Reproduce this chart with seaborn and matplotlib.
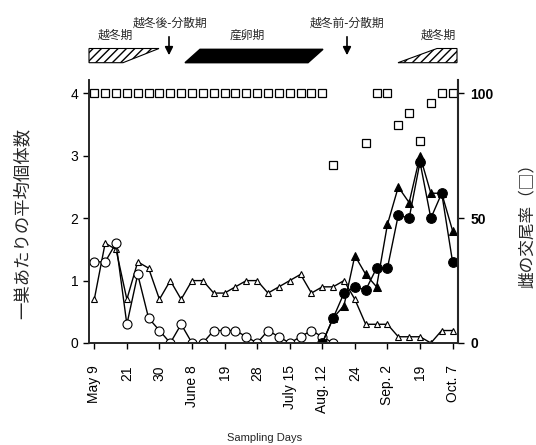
import numpy as np
import pandas as pd
import matplotlib
matplotlib.use("Agg")
import matplotlib.pyplot as plt
import seaborn as sns
from matplotlib.patches import Polygon

# sample index 0..33 (34 sampling days)
n_samples = 34
tick_idx = [0, 3, 6, 9, 12, 15, 18, 21, 24, 27, 30, 33]
tick_labels = ["May 9", "21", "30", "June 8", "19", "28", "July 15",
               "Aug. 12", "24", "Sep. 2", "19", "Oct. 7"]

nan = np.nan
# open triangles
open_tri = [0.7, 1.6, 1.5, 0.7, 1.3, 1.2, 0.7, 1.0, 0.7, 1.0, 1.0, 0.8, 0.8, 0.9,
            1.0, 1.0, 0.8, 0.9, 1.0, 1.1, 0.8, 0.9, 0.9, 1.0, 0.7, 0.3, 0.3, 0.3,
            0.1, 0.1, 0.1, 0.0, 0.2, 0.2]
# open circles (until Aug.)
open_circ = [1.3, 1.3, 1.6, 0.3, 1.1, 0.4, 0.2, 0.0, 0.3, 0.0, 0.0, 0.2, 0.2, 0.2,
             0.1, 0.0, 0.2, 0.1, 0.0, 0.1, 0.2, 0.1, 0.0] + [nan] * 11
# filled circles (from Aug.)
filled_circ = [nan] * 21 + [0.0, 0.4, 0.8, 0.9, 0.85, 1.2, 1.2, 2.05, 2.0, 2.9,
                            2.0, 2.4, 1.3]
# filled triangles
filled_tri = [nan] * 21 + [0.0, 0.4, 0.6, 1.4, 1.1, 0.9, 1.9, 2.5, 2.25, 3.0,
                           2.4, 2.4, 1.8]
# female mating rate (%), right axis
mating = [100] * 22 + [71.5, nan, nan, 80, 100, 100, 87.5, 92, 81, 96, 100, 100]

df = pd.DataFrame({
    "idx": np.arange(n_samples),
    "open_tri": open_tri,
    "open_circ": open_circ,
    "filled_circ": filled_circ,
    "filled_tri": filled_tri,
    "mating": mating,
})

sns.set_theme(style="ticks")
plt.rcParams['font.family'] = ['Liberation Sans', 'Noto Sans CJK JP']
plt.rcParams['axes.linewidth'] = 1.2

fig = plt.figure(figsize=(5.36, 4.45), dpi=100)
ax = fig.add_axes([89.3 / 536, (445 - 343) / 445, (458 - 89.3) / 536, (343 - 80) / 445])

kw = dict(color="black", linewidth=1.0, ax=ax, legend=False)
sns.lineplot(data=df, x="idx", y="open_tri", marker="^", markersize=5,
             markerfacecolor="white", markeredgecolor="black", markeredgewidth=0.8, **kw)
sns.lineplot(data=df, x="idx", y="open_circ", marker="o", markersize=6.5,
             markerfacecolor="white", markeredgecolor="black", markeredgewidth=0.8, **kw)
sns.lineplot(data=df, x="idx", y="filled_tri", marker="^", markersize=5.5,
             markerfacecolor="black", markeredgecolor="black", **kw)
sns.lineplot(data=df, x="idx", y="filled_circ", marker="o", markersize=7,
             markerfacecolor="black", markeredgecolor="black", **kw)

ymax = (343 - 80) / 62.4
ax.set_xlim(-0.46, 33.5)
ax.set_ylim(0, ymax)
ax.set_xticks(tick_idx)
ax.set_xticklabels(tick_labels, rotation=90, fontsize=10)
ax.set_yticks([0, 1, 2, 3, 4])
ax.set_yticklabels(["0", "1", "2", "3", "4"], fontsize=10)
ax.tick_params(axis="x", length=4, width=1, pad=12, colors="black")
ax.tick_params(axis="y", length=4, width=1, pad=4, colors="black")
ax.set_xlabel("")
ax.set_ylabel("")
ax.spines["top"].set_visible(False)

ax2 = ax.twinx()
sns.lineplot(data=df, x="idx", y="mating", marker="s", markersize=5.5,
             linestyle="none", markerfacecolor="white", markeredgecolor="black",
             markeredgewidth=0.9, color="black", ax=ax2, legend=False)
ax2.set_ylim(0, ymax * 25)
ax2.set_yticks([0, 50, 100])
ax2.set_yticklabels(["0", "50", "100"], fontsize=10, fontweight="bold")
ax2.tick_params(axis="y", length=4, width=1, pad=5, colors="black")
ax2.set_ylabel("")
ax2.spines["top"].set_visible(False)
ax2.spines["right"].set_linewidth(1.5)

fig.text(23 / 536, 1 - 223 / 445, "一巣あたりの平均個体数", rotation=90,
         ha="center", va="center", fontsize=12.5, family="Noto Sans CJK JP")
fig.text(527 / 536, 1 - 222 / 445, "雌の交尾率（□）", rotation=90,
         ha="center", va="center", fontsize=12, family="Noto Sans CJK JP")
fig.text(265 / 536, 2 / 445, "Sampling Days", ha="center", va="bottom", fontsize=8)

# top phase annotations, drawn in pixel coordinates
top = fig.add_axes([0, 0, 1, 1], facecolor="none")
top.set_xlim(0, 536)
top.set_ylim(445, 0)
top.axis("off")
top.add_patch(Polygon([(89, 48.5), (159, 48.5), (123, 62.7), (89, 62.7)],
                      closed=True, facecolor="white", edgecolor="black",
                      hatch="////", linewidth=0.8))
top.add_patch(Polygon([(398, 62.7), (437, 48.5), (457, 48.5), (457, 62.7)],
                      closed=True, facecolor="white", edgecolor="black",
                      hatch="////", linewidth=0.8))
top.add_patch(Polygon([(185, 62.7), (308, 62.7), (323, 49.3), (200, 49.3)],
                      closed=True, facecolor="black", edgecolor="black"))
for xa in (169, 347):
    top.annotate("", xy=(xa, 58), xytext=(xa, 34),
                 arrowprops=dict(arrowstyle="-|>", color="black", lw=1.2,
                                 mutation_scale=12))
jp = dict(ha="center", va="center", fontsize=8.5, family="Noto Sans CJK JP")
top.text(170, 23, "越冬後-分散期", **jp)
top.text(347, 23, "越冬前-分散期", **jp)
top.text(115, 35, "越冬期", **jp)
top.text(247, 35, "産卵期", **jp)
top.text(438, 35, "越冬期", **jp)

fig.savefig("out.png", dpi=100)
